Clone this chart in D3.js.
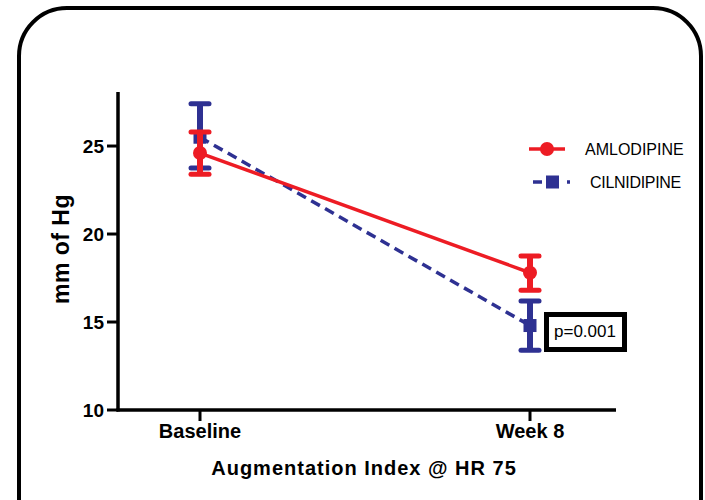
<!DOCTYPE html>
<html>
<head>
<meta charset="utf-8">
<script src="https://cdn.jsdelivr.net/npm/d3@7"></script>
<style>
  body { margin: 0; background: #fff; }
  svg { display: block; font-family: 'Liberation Sans', Arial, sans-serif; }
</style>
</head>
<body>
<div class="chart"></div>
<script>
const categories = ['Baseline', 'Week 8'];
const yTicks = [10, 15, 20, 25];

// mean, lower, upper
const amlodipine = [
  { mean: 24.6, lo: 23.4, hi: 25.8 },
  { mean: 17.8, lo: 16.8, hi: 18.75 }
];
const cilnidipine = [
  { mean: 25.5, lo: 23.75, hi: 27.4 },
  { mean: 14.8, lo: 13.4, hi: 16.2 }
];

const series = [
  { name: 'AMLODIPINE', values: amlodipine, color: '#ed1c24', dash: null, shape: 'circle' },
  { name: 'CILNIDIPINE', values: cilnidipine, color: '#2e3192', dash: '10,6', shape: 'square' }
];

const width = 705, height = 500;
const svg = d3.select('.chart').append('svg')
  .attr('width', width)
  .attr('height', height);

// outer rounded frame
svg.append('rect')
  .attr('x', 19).attr('y', 8)
  .attr('width', 682).attr('height', 540)
  .attr('rx', 48).attr('ry', 48)
  .attr('fill', 'none')
  .attr('stroke', '#000')
  .attr('stroke-width', 4);

const x = d3.scalePoint().domain(categories).range([200, 530]);
const y = d3.scaleLinear().domain([10, 28.07]).range([410, 92]);

// y axis
svg.append('line')
  .attr('x1', 118).attr('x2', 118)
  .attr('y1', y(28.07)).attr('y2', y(10) + 1.5)
  .attr('stroke', '#000').attr('stroke-width', 3.5);
yTicks.forEach(t => {
  svg.append('line')
    .attr('x1', 107).attr('x2', 118)
    .attr('y1', y(t)).attr('y2', y(t))
    .attr('stroke', '#000').attr('stroke-width', 3);
  svg.append('text')
    .attr('x', 104).attr('y', y(t) + 7)
    .attr('text-anchor', 'end')
    .attr('font-size', 19).attr('font-weight', 'bold')
    .text(t);
});

// x axis
svg.append('line')
  .attr('x1', 116.5).attr('x2', 616)
  .attr('y1', y(10)).attr('y2', y(10))
  .attr('stroke', '#000').attr('stroke-width', 3.5);
categories.forEach(c => {
  svg.append('line')
    .attr('x1', x(c)).attr('x2', x(c))
    .attr('y1', y(10)).attr('y2', y(10) + 11)
    .attr('stroke', '#000').attr('stroke-width', 3);
  svg.append('text')
    .attr('x', x(c)).attr('y', 438)
    .attr('text-anchor', 'middle')
    .attr('font-size', 20).attr('font-weight', 'bold')
    .text(c);
});

svg.append('text')
  .attr('x', 364).attr('y', 475)
  .attr('text-anchor', 'middle')
  .attr('font-size', 20).attr('font-weight', 'bold')
  .attr('letter-spacing', 1)
  .text('Augmentation Index @ HR 75');

svg.append('text')
  .attr('transform', 'translate(69,249) rotate(-90)')
  .attr('text-anchor', 'middle')
  .attr('font-size', 23).attr('font-weight', 'bold')
  .attr('letter-spacing', 0.5)
  .text('mm of Hg');

const line = d3.line()
  .x((d, i) => x(categories[i]))
  .y(d => y(d.mean));

// draw cilnidipine first so amlodipine sits on top at baseline
[series[1], series[0]].forEach(s => {
  const g = svg.append('g');
  g.append('path')
    .datum(s.values)
    .attr('d', line)
    .attr('fill', 'none')
    .attr('stroke', s.color)
    .attr('stroke-width', 3.5)
    .attr('stroke-dasharray', s.dash);

  s.values.forEach((d, i) => {
    const cx = x(categories[i]);
    g.append('line')
      .attr('x1', cx).attr('x2', cx)
      .attr('y1', y(d.lo)).attr('y2', y(d.hi))
      .attr('stroke', s.color).attr('stroke-width', 6);
    [d.lo, d.hi].forEach(v => {
      g.append('line')
        .attr('x1', cx - 9).attr('x2', cx + 9)
        .attr('y1', y(v)).attr('y2', y(v))
        .attr('stroke', s.color).attr('stroke-width', 5)
        .attr('stroke-linecap', 'round');
    });
    if (s.shape === 'circle') {
      g.append('circle')
        .attr('cx', cx).attr('cy', y(d.mean)).attr('r', 7)
        .attr('fill', s.color);
    } else {
      g.append('rect')
        .attr('x', cx - 6.5).attr('y', y(d.mean) - 6.5)
        .attr('width', 13).attr('height', 13)
        .attr('fill', s.color);
    }
  });
});

// legend
const legend = svg.append('g');
series.forEach((s, i) => {
  const ly = 149 + i * 33;
  if (s.shape === 'circle') {
    legend.append('line')
      .attr('x1', 529).attr('x2', 565)
      .attr('y1', ly).attr('y2', ly)
      .attr('stroke', s.color).attr('stroke-width', 3.5);
    legend.append('circle')
      .attr('cx', 547).attr('cy', ly).attr('r', 7)
      .attr('fill', s.color);
  } else {
    legend.append('line')
      .attr('x1', 533).attr('x2', 570)
      .attr('y1', ly).attr('y2', ly)
      .attr('stroke', s.color).attr('stroke-width', 3.5)
      .attr('stroke-dasharray', '9,25,3');
    legend.append('rect')
      .attr('x', 546).attr('y', ly - 6.5)
      .attr('width', 13).attr('height', 13)
      .attr('fill', s.color);
  }
  legend.append('text')
    .attr('x', i === 0 ? 585 : 590).attr('y', ly + 6)
    .attr('font-size', 16)
    .attr('letter-spacing', i === 0 ? 0 : -0.3)
    .attr('fill', '#000')
    .text(s.name);
});

// p-value box
svg.append('rect')
  .attr('x', 546.5).attr('y', 314.5)
  .attr('width', 78).attr('height', 35)
  .attr('fill', '#fff')
  .attr('stroke', '#000').attr('stroke-width', 5);
svg.append('text')
  .attr('x', 585).attr('y', 337)
  .attr('text-anchor', 'middle')
  .attr('font-size', 17)
  .text('p=0.001');
</script>
</body>
</html>
